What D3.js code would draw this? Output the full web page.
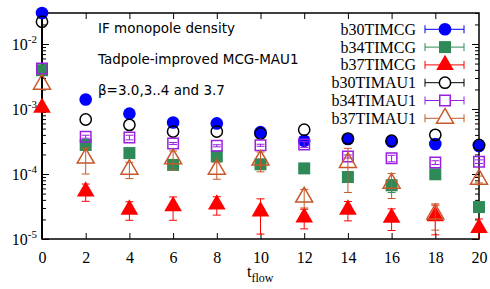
<!DOCTYPE html>
<html>
<head>
<meta charset="utf-8">
<script src="https://cdn.jsdelivr.net/npm/d3@7"></script>
<style>
  body { margin: 0; background: #fff; }
  svg { display: block; }
  .serif { font-family: "Liberation Serif", "Times New Roman", serif; }
</style>
</head>
<body>
<svg width="490" height="289"></svg>
<script>
// t_flow values and the six series
const tflow = [0, 2, 4, 6, 8, 10, 12, 14, 16, 18, 20];

const b30TIMCG = [3.0e-2, 1.40e-3, 8.5e-4, 6.2e-4, 6.0e-4, 4.4e-4, 3.25e-4, 3.45e-4, 3.15e-4, 2.9e-4, 2.7e-4];
const b30TIMCGerr = [0, 0, 0, 0, 0, 0, 0, 0, 0, 0, 0];
const b34TIMCG = [3.95e-3, 2.8e-4, 2.1e-4, 1.38e-4, 1.86e-4, 1.41e-4, 1.22e-4, 9.0e-5, 6.7e-5, 9.9e-5, 3.1e-5];
const b34TIMCGerr = [0, 0.3e-4, 0.1e-4, 0.1e-4, 0.1e-4, 0.1e-4, 0.05e-4, 1.2e-5, 1.5e-5, 1.0e-5, 0.3e-5];
const b37TIMCG = [1.05e-3, 5.4e-5, 2.84e-5, 3.19e-5, 3.4e-5, 2.67e-5, 2.15e-5, 2.84e-5, 2.13e-5, 2.24e-5, 1.48e-5];
const b37TIMCGerr = [0, 1.6e-5, 0.9e-5, 1.25e-5, 1.07e-5, 1.48e-5, 0.72e-5, 0.94e-5, 0.78e-5, 1.08e-5, 0.55e-5];
const b30TIMAU1 = [2.2e-2, 6.9e-4, 5.7e-4, 4.5e-4, 4.5e-4, 4.2e-4, 4.8e-4, 3.5e-4, 3.25e-4, 4.0e-4, 2.8e-4];
const b30TIMAU1err = [0, 0, 0, 0, 0, 0, 0, 0, 0, 0, 0];
const b34TIMAU1 = [4.2e-3, 3.75e-4, 3.65e-4, 2.95e-4, 2.72e-4, 2.77e-4, 2.85e-4, 1.86e-4, 1.74e-4, 1.50e-4, 1.55e-4];
const b34TIMAU1err = [0, 0.2e-4, 0.3e-4, 0.1e-4, 0.1e-4, 0.1e-4, 0.3e-4, 0.1e-4, 0.2e-4, 0.1e-4, 0.1e-4];
const b37TIMAU1 = [2.4e-3, 1.75e-4, 1.18e-4, 1.71e-4, 1.18e-4, 1.63e-4, 4.4e-5, 1.5e-4, 7.2e-5, 2.42e-5, 8.3e-5];
const b37TIMAU1err = [0, 0.75e-4, 0.33e-4, 0.55e-4, 0.35e-4, 0.55e-4, 1.4e-5, 0.98e-4, 3.0e-5, 1.05e-5, 1.0e-5];

const seriesNames = ["b30TIMCG", "b34TIMCG", "b37TIMCG", "b30TIMAU1", "b34TIMAU1", "b37TIMAU1"];
const yDecades = [1e-5, 1e-4, 1e-3, 1e-2];
const xTicks = [0, 2, 4, 6, 8, 10, 12, 14, 16, 18, 20];
const notes = ["IF monopole density", "Tadpole-improved MCG-MAU1", "β=3.0,3..4 and 3.7"];

const series = [
  {name: seriesNames[0], v: b30TIMCG, e: b30TIMCGerr, color: "#0000ff", sym: d3.symbolCircle, size: 125, filled: true},
  {name: seriesNames[1], v: b34TIMCG, e: b34TIMCGerr, color: "#2e8b57", sym: d3.symbolSquare, size: 144, filled: true},
  {name: seriesNames[2], v: b37TIMCG, e: b37TIMCGerr, color: "#ff0000", sym: d3.symbolTriangle, size: 135, filled: true},
  {name: seriesNames[3], v: b30TIMAU1, e: b30TIMAU1err, color: "#000000", sym: d3.symbolCircle, size: 100, filled: false},
  {name: seriesNames[4], v: b34TIMAU1, e: b34TIMAU1err, color: "#9a1fe0", sym: d3.symbolSquare, size: 110, filled: false},
  {name: seriesNames[5], v: b37TIMAU1, e: b37TIMAU1err, color: "#c8582a", sym: d3.symbolTriangle, size: 125, filled: false}
];

const L = 42, R = 479, T = 13, B = 239;
const x = d3.scaleLinear().domain([0, 20]).range([L, R]);
const y = d3.scaleLog().domain([1e-5, 0.03]).range([B, T]);

const svg = d3.select("svg");

// x axis (bottom labels, ticks inward on bottom and top)
const xAxis = svg.append("g").attr("transform", `translate(0,${B})`)
  .call(d3.axisBottom(x).tickValues(xTicks).tickSizeInner(-6).tickSizeOuter(0).tickPadding(13));
xAxis.select(".domain").remove();
xAxis.selectAll("text").attr("class", "serif").attr("font-size", 16).attr("fill", "#000");

const xTop = svg.append("g").attr("transform", `translate(0,${T})`)
  .call(d3.axisTop(x).tickValues(xTicks.slice(1, -1)).tickSizeInner(-6).tickSizeOuter(0).tickFormat(""));
xTop.select(".domain").remove();

// y axis: decades + minor ticks, left and right
const minor = [];
yDecades.forEach(d => { for (let k = 2; k <= 9; k++) if (d * k <= 0.03) minor.push(d * k); });

function yTicks(g, side) {
  const mk = side === "left" ? d3.axisLeft : d3.axisRight;
  g.append("g").call(mk(y).tickValues(yDecades).tickSizeInner(-7).tickSizeOuter(0).tickFormat(""))
    .select(".domain").remove();
  g.append("g").call(mk(y).tickValues(minor).tickSizeInner(-4).tickSizeOuter(0).tickFormat(""))
    .select(".domain").remove();
}
yTicks(svg.append("g").attr("transform", `translate(${L},0)`), "left");
yTicks(svg.append("g").attr("transform", `translate(${R},0)`), "right");

// y labels 10^n
const yl = svg.append("g").attr("class", "serif").attr("fill", "#000");
yDecades.forEach(d => {
  const t = yl.append("text").attr("x", 37).attr("y", y(d) + 6).attr("text-anchor", "end").attr("font-size", 16);
  t.append("tspan").text("10");
  t.append("tspan").attr("font-size", 11).attr("dy", -7).text(Math.round(Math.log10(d)));
});

// frame
svg.append("rect").attr("x", L).attr("y", T).attr("width", R - L).attr("height", B - T)
  .attr("fill", "none").attr("stroke", "#000").attr("stroke-width", 1.5);
svg.append("line").attr("x1", L).attr("x2", L).attr("y1", T).attr("y2", B)
  .attr("stroke", "#000").attr("stroke-width", 2);

// x label
const xl = svg.append("text").attr("class", "serif").attr("x", 247).attr("y", 277).attr("font-size", 16);
xl.append("tspan").text("t");
xl.append("tspan").attr("font-size", 12).attr("dy", 5).text("flow");

// annotations
svg.append("g").selectAll("text").data(notes).enter().append("text")
  .attr("x", 98).attr("y", (d, i) => 33 + i * 31)
  .attr("font-family", "DejaVu Sans, sans-serif").attr("font-size", 13.5)
  .text(d => d);

// data
series.forEach(s => {
  const g = svg.append("g");
  const pts = tflow.map((t, i) => ({t: t, v: s.v[i], e: s.e[i]}));
  const eb = pts.filter(p => p.e > 0);
  g.selectAll("line.eb").data(eb).enter().append("line")
    .attr("x1", p => x(p.t)).attr("x2", p => x(p.t))
    .attr("y1", p => y(p.v + p.e)).attr("y2", p => y(Math.max(p.v - p.e, 1.01e-5)))
    .attr("stroke", s.color).attr("stroke-width", 1);
  g.selectAll("line.cap1").data(eb).enter().append("line")
    .attr("x1", p => x(p.t) - 4).attr("x2", p => x(p.t) + 4)
    .attr("y1", p => y(p.v + p.e)).attr("y2", p => y(p.v + p.e))
    .attr("stroke", s.color).attr("stroke-width", 1);
  g.selectAll("line.cap2").data(eb.filter(p => p.v - p.e > 1.01e-5)).enter().append("line")
    .attr("x1", p => x(p.t) - 4).attr("x2", p => x(p.t) + 4)
    .attr("y1", p => y(p.v - p.e)).attr("y2", p => y(p.v - p.e))
    .attr("stroke", s.color).attr("stroke-width", 1);
  g.selectAll("path").data(pts).enter().append("path")
    .attr("d", d3.symbol().type(s.sym).size(s.size))
    .attr("transform", p => `translate(${x(p.t)},${y(p.v)})`)
    .attr("fill", s.filled ? s.color : "none")
    .attr("stroke", s.color).attr("stroke-width", s.filled ? 0 : 1.5);
});

// legend
const lg = svg.append("g");
series.forEach((s, i) => {
  const yy = 29.3 + i * 17.8;
  lg.append("text").attr("class", "serif").attr("x", 416).attr("y", yy + 5.5)
    .attr("text-anchor", "end").attr("font-size", 16).text(s.name);
  lg.append("line").attr("x1", 425).attr("x2", 464).attr("y1", yy).attr("y2", yy)
    .attr("stroke", s.color).attr("stroke-width", 1);
  [425, 464].forEach(cx => lg.append("line").attr("x1", cx).attr("x2", cx)
    .attr("y1", yy - 4).attr("y2", yy + 4).attr("stroke", s.color).attr("stroke-width", 1));
  lg.append("path").attr("d", d3.symbol().type(s.sym).size(s.size))
    .attr("transform", `translate(445,${yy})`)
    .attr("fill", s.filled ? s.color : "#fff")
    .attr("stroke", s.color).attr("stroke-width", s.filled ? 0 : 1.5);
});
</script>
</body>
</html>
